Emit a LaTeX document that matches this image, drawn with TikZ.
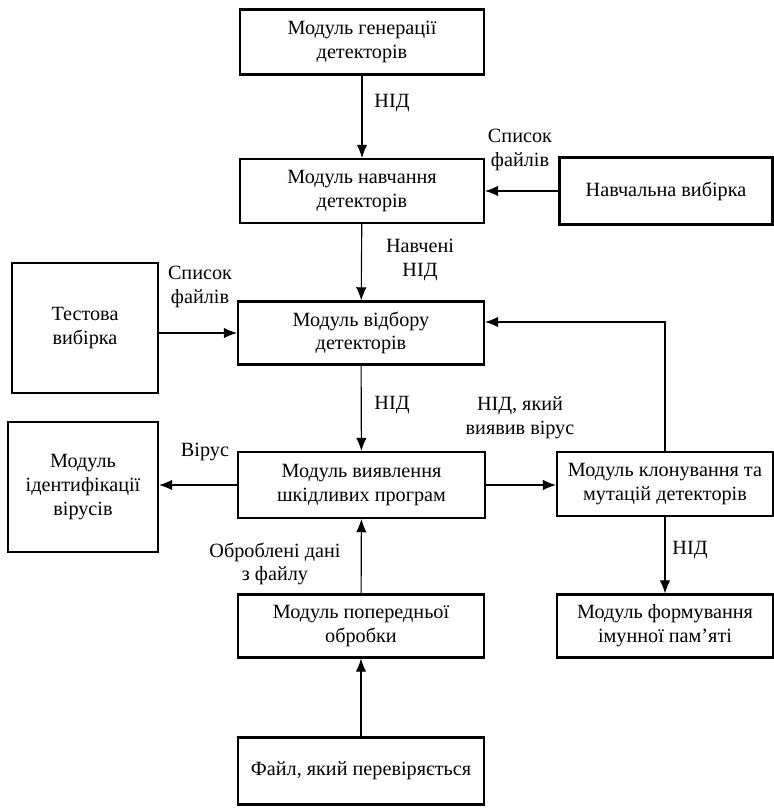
\documentclass[tikz,border=0pt]{standalone}
\usepackage{fontspec}
\setmainfont{Liberation Serif}
\usetikzlibrary{arrows.meta,positioning}

\begin{document}
\begin{tikzpicture}[
  modbox/.style={rectangle,draw=black,line width=1.2pt,fill=white,
    align=center,font=\fontsize{11.5}{13.5}\selectfont,inner sep=2pt},
  flow/.style={-{Latex[length=7.5pt,width=6pt]},line width=0.65pt},
  tag/.style={align=center,font=\fontsize{11.5}{13.5}\selectfont,inner sep=1pt}
]
\useasboundingbox (0,0) rectangle (15.48,-16.18);
\node[modbox,minimum width=4.88cm,minimum height=1.30cm] (gen) at (7.24,-0.84) {Модуль генерації\\детекторів};
\node[modbox,minimum width=4.88cm,minimum height=1.28cm] (train) at (7.24,-3.82) {Модуль навчання\\детекторів};
\node[modbox,minimum width=4.26cm,minimum height=1.34cm] (trainset) at (13.32,-3.82) {Навчальна вибірка};
\node[modbox,minimum width=2.92cm,minimum height=2.60cm] (testset) at (1.70,-6.56) {Тестова\\вибірка};
\node[modbox,minimum width=4.92cm,minimum height=1.26cm] (select) at (7.22,-6.66) {Модуль відбору\\детекторів};
\node[modbox,minimum width=3.00cm,minimum height=2.60cm] (ident) at (1.66,-9.74) {Модуль\\ідентифікації\\вірусів};
\node[modbox,minimum width=4.94cm,minimum height=1.32cm] (detect) at (7.23,-9.70) {Модуль виявлення\\шкідливих програм};
\node[modbox,minimum width=4.32cm,minimum height=1.28cm] (clone) at (13.30,-9.68) {Модуль клонування та\\мутацій детекторів};
\node[modbox,minimum width=4.92cm,minimum height=1.26cm] (prep) at (7.22,-12.52) {Модуль попередньої\\обробки};
\node[modbox,minimum width=4.32cm,minimum height=1.26cm] (memory) at (13.30,-12.52) {Модуль формування\\імунної пам'яті};
\node[modbox,minimum width=4.92cm,minimum height=1.34cm] (file) at (7.22,-15.42) {Файл, який перевіряється};
% connectors
\draw[flow] (gen) -- (train);
\draw[flow] (trainset) -- (train);
\draw[flow] (train) -- (select);
\draw[flow] (testset.east |- select.west) -- (select.west);
\draw[flow] (select) -- (detect);
\draw[flow] (detect.west) -- (ident.east |- detect.west);
\draw[flow] (detect.east) -- (clone.west |- detect.east);
\draw[flow] (clone) -- (memory);
\draw[flow] (prep) -- (detect);
\draw[flow] (file) -- (prep);
\coordinate (back) at ([yshift=0.22cm]select.east);
\draw[flow] (clone.north) |- (back);
% labels
\node[tag] (l1) at (7.84,-2.06) {НІД};
\node[tag] (l2) at (10.40,-3.00) {Список\\файлів};
\node[tag] (l3) at (8.40,-5.20) {Навчені\\НІД};
\node[tag] (l4) at (4.00,-5.74) {Список\\файлів};
\node[tag] (l5) at (7.84,-8.10) {НІД};
\node[tag] (l6) at (10.40,-8.36) {НІД, який\\виявив вірус};
\node[tag] (l7) at (4.10,-9.04) {Вірус};
\node[tag] (l8) at (5.50,-11.28) {Оброблені дані\\з файлу};
\node[tag] (l9) at (13.80,-11.00) {НІД};
\end{tikzpicture}
\end{document}
